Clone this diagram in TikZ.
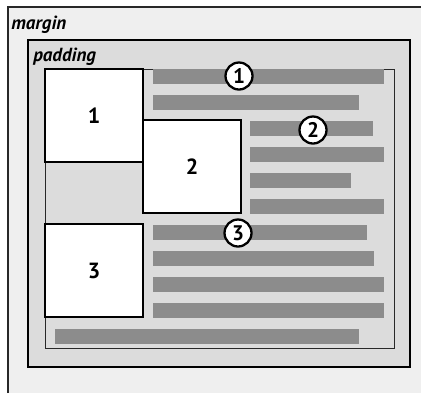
\documentclass[tikz,border=0pt]{standalone}
\usepackage{fontspec}
\setmainfont{PT Sans}
\usetikzlibrary{positioning}
\definecolor{marginbg}{RGB}{239,239,239}
\definecolor{paddingbg}{RGB}{220,220,220}
\definecolor{barfill}{RGB}{140,140,140}
\definecolor{edge}{RGB}{40,40,40}

\tikzset{
  floatbox/.style={draw=black,line width=1.1pt,fill=white,minimum width=1.96cm,minimum height=1.86cm,inner sep=0pt,font=\fontsize{12.5}{14}\selectfont\bfseries},
  textbar/.style={fill=barfill},
  marker/.style={circle,draw=black,line width=1.3pt,fill=white,minimum size=0.54cm,inner sep=0pt,font=\fontsize{12}{14}\selectfont\bfseries},
  boxlabel/.style={anchor=west,inner sep=0pt,font=\fontsize{10.8}{12}\selectfont\bfseries\itshape}
}

\begin{document}
\begin{tikzpicture}[x=0.02cm,y=-0.02cm]
\useasboundingbox (0,0) rectangle (421,393);
% margin area
\fill[marginbg] (8,7) rectangle (421,393);
\draw[edge,line width=0.8pt] (8,393) -- (8,7) -- (421,7);
\node[boxlabel] (marginlbl) at (11,25) {margin};
% padding and content area
\draw[black,line width=1.1pt,fill=paddingbg] (28,40) rectangle (410,367);
\node[boxlabel] (paddinglbl) at (33,57) {padding};
\draw[edge,line width=0.4pt] (45,69) rectangle (394,348);
% lines of text
\foreach \y/\xa/\xb in {69/153/384, 95/153/359, 121/250/373, 147/250/384, 173/250/351,
                        199/250/384, 225/153/367, 251/153/374, 277/153/384, 303/153/384, 329/55/359}
  \fill[textbar] (\xa,\y) rectangle (\xb,\y+15);
% floated boxes
\node[floatbox] (box1) at (94,115.5) {1};
\node[floatbox] (box2) at (192,166.5) {2};
\node[floatbox] (box3) at (94,270.5) {3};
% numbered markers
\node[marker] (m1) at (239,76) {1};
\node[marker] (m2) at (313,130) {2};
\node[marker] (m3) at (238,233) {3};
\end{tikzpicture}
\end{document}
